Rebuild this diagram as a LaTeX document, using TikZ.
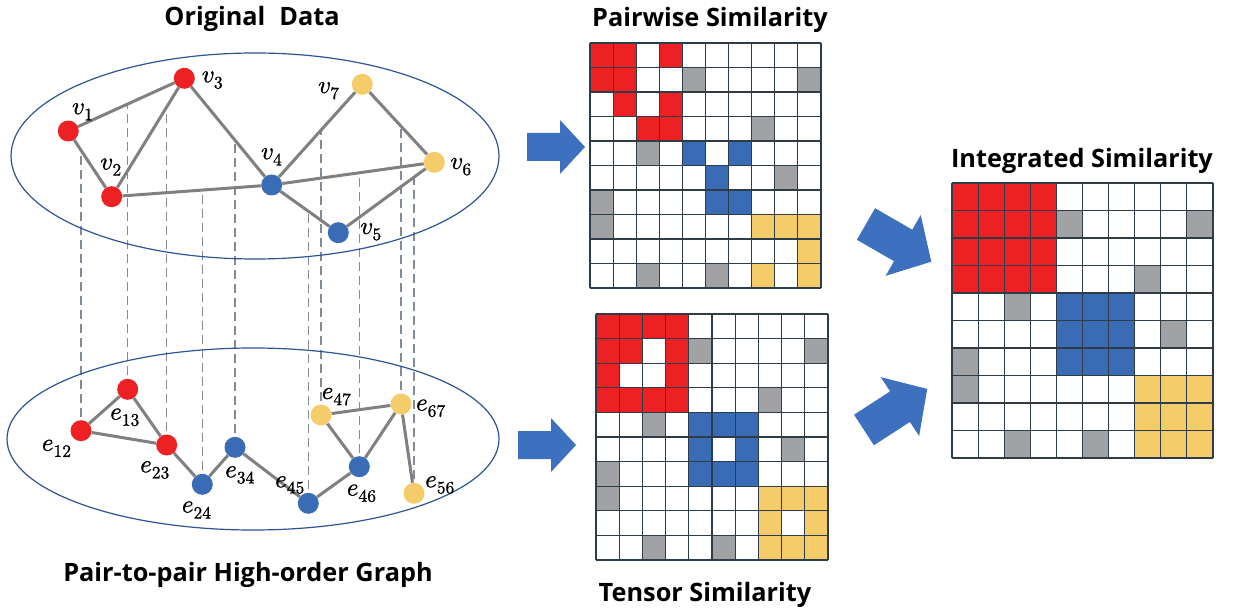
\documentclass[tikz,border=0pt]{standalone}
\usepackage{fontspec}
\usepackage{unicode-math}
\setmathfont{Latin Modern Math}[FakeBold=1.0]
\newfontfamily\titlefont{Open Sans}
\usetikzlibrary{calc,backgrounds,shapes.geometric}

\definecolor{cellred}{RGB}{237,32,36}
\definecolor{cellblue}{RGB}{58,108,182}
\definecolor{cellyellow}{RGB}{244,205,106}
\definecolor{cellgray}{RGB}{160,162,166}
\definecolor{gridc}{RGB}{45,60,70}
\definecolor{ringblue}{RGB}{46,84,150}
\definecolor{edgegray}{RGB}{128,128,128}
\definecolor{dashgray}{RGB}{130,140,150}
\definecolor{arrowblue}{RGB}{62,112,192}

% 10x10 similarity matrix: #1,#2 top-left corner, #3,#4 cell width/height,
% #5 red cells, #6 blue cells, #7 yellow cells (row/column pairs)
\newcommand\simmatrix[7]{%
  \foreach \r/\c in {#5}{\fill[cellred] ({#1+(\c-1)*#3},{#2+(\r-1)*#4}) rectangle ++(#3,#4);}
  \foreach \r/\c in {#6}{\fill[cellblue] ({#1+(\c-1)*#3},{#2+(\r-1)*#4}) rectangle ++(#3,#4);}
  \foreach \r/\c in {#7}{\fill[cellyellow] ({#1+(\c-1)*#3},{#2+(\r-1)*#4}) rectangle ++(#3,#4);}
  \foreach \r/\c in {2/5,2/10,4/8,5/3,6/9,7/1,8/1,10/3,10/6}
    {\fill[cellgray] ({#1+(\c-1)*#3},{#2+(\r-1)*#4}) rectangle ++(#3,#4);}
  \foreach \i in {0,...,10}{
    \draw[gridline] ({#1+\i*#3},#2) -- ++(0,{10*#4});
    \draw[gridline] (#1,{#2+\i*#4}) -- ++({10*#3},0);}
}

\tikzset{
  pics/blockarrow/.style={code={
    \fill[arrowblue] (0,-14) -- (33,-14) -- (33,-27) -- (58,0) -- (33,27) -- (33,14) -- (0,14) -- cycle;}}
}

\begin{document}
\begin{tikzpicture}[x=1pt,y=-1pt,
  vnode/.style={circle, inner sep=0pt, minimum size=21pt},
  lab/.style={inner sep=0pt, font=\fontsize{25}{30}\selectfont},
  edge/.style={draw=edgegray, line width=3pt},
  proj/.style={draw=dashgray, line width=1.5pt, dash pattern=on 9pt off 5pt},
  ring/.style={draw=ringblue, line width=1.2pt, ellipse, inner sep=0pt},
  title/.style={font=\titlefont\bfseries\fontsize{25.3}{30}\selectfont, anchor=base, inner sep=0pt},
  gridline/.style={draw=gridc, line width=1.1pt}]

\useasboundingbox (0,0) rectangle (1234,612);
\begin{scope}[on background layer]
  \fill[white] (0,0) rectangle (1234,612);
\end{scope}

% ---------- titles ----------
\node[title] (ttop)  at (252,26)    {Original\hspace{0.55em}Data};
\node[title] (tpair) at (710,26.7)  {Pairwise Similarity};
\node[title] (tint)  at (1082,168)  {Integrated Similarity};
\node[title] (tbot)  at (248,581.7) {Pair-to-pair High-order Graph};
\node[title] (tten)  at (705,601.7) {Tensor Similarity};

% ---------- original data graph ----------
\node[ring, minimum width=488pt, minimum height=206pt] (topring) at (255,156) {};
\node[vnode, fill=cellred]    (v1) at (68.3,131)   {};
\node[vnode, fill=cellred]    (v2) at (111.7,196.7) {};
\node[vnode, fill=cellred]    (v3) at (184.3,78.3) {};
\node[vnode, fill=cellblue]   (v4) at (271.7,185)  {};
\node[vnode, fill=cellblue]   (v5) at (338.3,232.7) {};
\node[vnode, fill=cellyellow] (v6) at (434.3,162.3) {};
\node[vnode, fill=cellyellow] (v7) at (362.3,84.3) {};

\node[lab] at (82.7,111.7) {$v_1$};
\node[lab] at (111,167)    {$v_2$};
\node[lab] at (212.5,80)   {$v_3$};
\node[lab] at (271.7,156.7) {$v_4$};
\node[lab] at (371,231.7)  {$v_5$};
\node[lab] at (461,166.7)  {$v_6$};
\node[lab] at (329,90.7)   {$v_7$};

% ---------- pair-to-pair high-order graph ----------
\node[ring, minimum width=492pt, minimum height=182pt] (botring) at (253,439) {};
\node[vnode, fill=cellred]    (e12) at (81,430.7)    {};
\node[vnode, fill=cellred]    (e13) at (127.7,389.3) {};
\node[vnode, fill=cellred]    (e23) at (166.7,445)   {};
\node[vnode, fill=cellblue]   (e24) at (202.3,484.3) {};
\node[vnode, fill=cellblue]   (e34) at (235,447.3)   {};
\node[vnode, fill=cellblue]   (e45) at (308.3,503.3) {};
\node[vnode, fill=cellyellow] (e47) at (321,415)     {};
\node[vnode, fill=cellblue]   (e46) at (359.3,466.7) {};
\node[vnode, fill=cellyellow] (e67) at (401,404)     {};
\node[vnode, fill=cellyellow] (e56) at (414,493.3)   {};

\node[lab] at (56.7,448.3) {$e_{12}$};
\node[lab] at (125,417.3)  {$e_{13}$};
\node[lab] at (155,470)    {$e_{23}$};
\node[lab] at (196.7,510)  {$e_{24}$};
\node[lab] at (240,475)    {$e_{34}$};
\node[lab] at (290,485)    {$e_{45}$};
\node[lab] at (336.7,396.7) {$e_{47}$};
\node[lab] at (361.7,493.3) {$e_{46}$};
\node[lab] at (431,408.3)  {$e_{67}$};
\node[lab] at (440,485)    {$e_{56}$};

% edges and projection lines sit behind the vertices
\begin{scope}[on background layer]
  % points on the original edges where the projections start
  \coordinate (t12) at ($(v1)!0.33!(v2)$);
  \coordinate (t13) at ($(v1)!0.512!(v3)$);
  \coordinate (t23) at ($(v2)!0.758!(v3)$);
  \coordinate (t24) at ($(v2)!0.566!(v4)$);
  \coordinate (t34) at ($(v3)!0.58!(v4)$);
  \coordinate (t45) at ($(v4)!0.55!(v5)$);
  \coordinate (t47) at ($(v4)!0.544!(v7)$);
  \coordinate (t46) at ($(v4)!0.54!(v6)$);
  \coordinate (t67) at ($(v7)!0.53!(v6)$);
  \coordinate (t56) at ($(v5)!0.79!(v6)$);
  \foreach \p in {12,13,23,24,34,45,47,46,67,56}
    \draw[proj] (e\p.center) -- (e\p |- t\p);

  \foreach \a/\b in {v1/v3,v1/v2,v2/v3,v3/v4,v2/v4,v4/v7,v7/v6,v4/v6,v4/v5,v5/v6}
    \draw[edge] (\a) -- (\b);
  \foreach \a/\b in {e12/e13,e13/e23,e12/e23,e23/e24,e24/e34,e34/e45,e45/e46,
                     e46/e47,e46/e67,e47/e67,e67/e56}
    \draw[edge] (\a) -- (\b);
\end{scope}

% ---------- block arrows ----------
\pic at (527,147) {blockarrow};
\pic at (518,445) {blockarrow};
\pic[rotate=-30, scale=1.3] at (866,224) {blockarrow};
\pic[rotate=33, scale=1.3] at (864,430) {blockarrow};

% ---------- pairwise similarity ----------
\simmatrix{590}{43}{23.1}{24.5}
  {1/1,1/2,1/4,2/1,2/2,3/2,3/4,4/3,4/4}
  {5/5,5/7,6/6,7/6,7/7}
  {8/8,8/9,8/10,9/10,10/8,10/10}

% ---------- tensor similarity ----------
\simmatrix{596}{314}{23.2}{24.6}
  {1/1,1/2,1/3,1/4,2/1,2/2,2/4,3/1,3/4,4/1,4/2,4/3,4/4}
  {5/5,5/6,5/7,6/5,6/7,7/5,7/6,7/7}
  {8/8,8/9,8/10,9/8,9/10,10/8,10/9,10/10}

% ---------- integrated similarity ----------
\simmatrix{952}{183}{26.1}{27.5}
  {1/1,1/2,1/3,1/4,2/1,2/2,2/3,2/4,3/1,3/2,3/3,3/4,4/1,4/2,4/3,4/4}
  {5/5,5/6,5/7,6/5,6/6,6/7,7/5,7/6,7/7}
  {8/8,8/9,8/10,9/8,9/9,9/10,10/8,10/9,10/10}

\end{tikzpicture}
\end{document}
